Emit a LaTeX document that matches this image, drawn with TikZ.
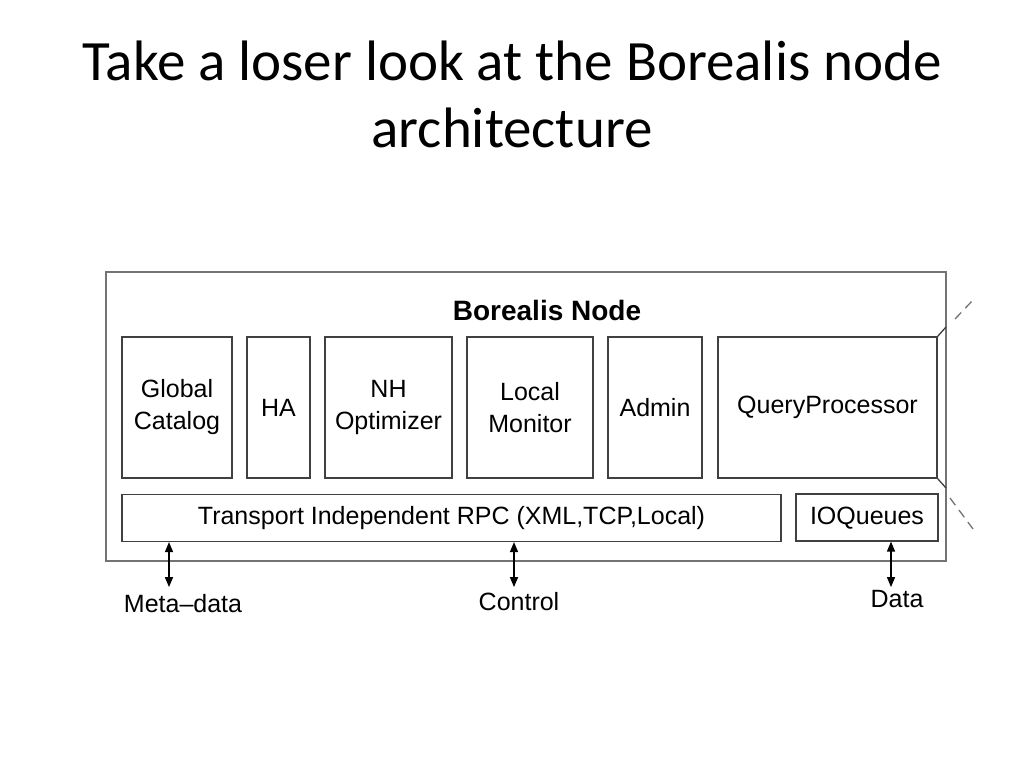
\documentclass[tikz,border=0pt]{standalone}
\usepackage{fontspec}
\setmainfont{Liberation Sans}
\newfontfamily\titlefont{Carlito}
\usetikzlibrary{shapes,arrows}
\tikzset{%
	block/.style    	= {draw=black!75, line width=1.3pt, rectangle, inner sep=0pt, align=center, minimum height=141pt, font=\fontsize{25}{32}\selectfont},
	bus/.style      	= {draw=black!75, line width=1.3pt, rectangle, inner sep=0pt, minimum height=47pt, text height=18pt, text depth=5pt, font=\fontsize{25}{30}\selectfont},
	frame/.style    	= {draw=black!55, line width=1.8pt, rectangle, inner sep=0pt},
	io/.style       	= {font=\fontsize{25}{30}\selectfont, anchor=base}, % Outside label
	title/.style    	= {font=\titlefont\fontsize{57}{66}\selectfont, anchor=base},
	end/.style      	= {coordinate} % Arrow end
}

\begin{document}
\begin{tikzpicture}[x=1pt, y=-1pt, line width=1.3pt, >=triangle 45]
	\useasboundingbox (0,0) rectangle (1024,768);
	\draw % Title of the slide :
	node at (512,80) [title] (title1) {Take a loser look at the Borealis node}
	node at (512,147) [title] (title2) {architecture}
	;
	
	\draw % Drawing the Borealis node :
	node at (526,416.5) [frame, minimum width=840pt, minimum height=289pt] (outer) {}
	node at (547,320) [anchor=base, font=\bfseries\fontsize{28}{32}\selectfont] (head) {Borealis Node}
	node at (177,407.5) [block, minimum width=110pt] (catalog) {Global\\Catalog}
	node at (278.5,407.5) [block, minimum width=63pt] (ha) {HA}
	node at (388.5,407.5) [block, minimum width=127pt] (nhopt) {NH\\Optimizer}
	node at (530,407.5) [block, minimum width=126pt] (monitor) {Local\\Monitor}
	node at (655,407.5) [block, minimum width=94pt] (admin) {Admin}
	node at (827.5,407.5) [block, minimum width=219pt] (qp) {QueryProcessor}
	node at (451.5,518) [bus, minimum width=659pt] (rpc) {Transport Independent RPC (XML,TCP,Local)}
	node at (867,517.5) [bus, minimum width=142pt] (ioq) {IOQueues}
	;
	
	% QueryProcessor edge and hints
	\coordinate (qpne) at (946,327);
	\coordinate (qpse) at (946,488);
	\draw[black!75] (qp.north east) -- (qpne);
	\draw[black!75] (qp.south east) -- (qpse);
	\draw[black!55, dashed, dash pattern=on 9pt off 6pt] (955,319) -- (973,300);
	\draw[black!55, dashed, dash pattern=on 9pt off 6pt] (950,498) -- (973,529);
	
	% Outside connections
	\draw node at (183,612) [io] (meta) {Meta--data}
	node at (519,610) [io] (control) {Control}
	node at (897,607) [io] (data) {Data}
	node at (169,587) [end] (metaend) {}
	node at (514,587) [end] (controlend) {}
	node at (891,587) [end] (dataend) {}
	;
	\draw[<->] (rpc.south -| metaend) -- (metaend);
	\draw[<->] (rpc.south -| controlend) -- (controlend);
	\draw[<->] (ioq.south -| dataend) -- (dataend);
\end{tikzpicture}
\end{document}
